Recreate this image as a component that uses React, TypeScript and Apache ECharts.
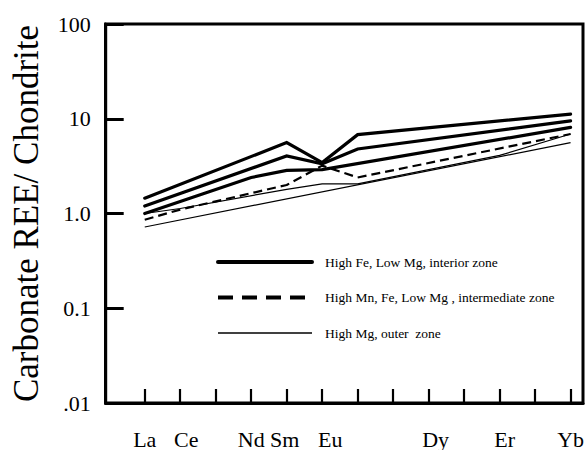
import React, { useEffect, useRef } from "react";
import * as echarts from "echarts";

// REE sequence (x axis positions) and which ones are labelled
const elements = ["La", "Ce", "Pr", "Nd", "Sm", "Eu", "Gd", "Tb", "Dy", "Ho", "Er", "Tm", "Yb"];
const labeledElements = ["La", "Ce", "Nd", "Sm", "Eu", "Dy", "Er", "Yb"];

// y ticks and their labels
const yTickValues = [0.01, 0.1, 1, 10, 100];
const yTickLabels = [".01", "0.1", "1.0", "10", "100"];

const legendNames = [
  "High Fe, Low Mg, interior zone",
  "High Mn, Fe, Low Mg , intermediate zone",
  "High Mg, outer  zone",
];

// interior zone (three thick profiles)
const interior1Elements = ["La", "Sm", "Eu", "Gd", "Yb"];
const interior1Values = [1.45, 5.6, 3.45, 6.8, 11.2];
const interior2Elements = ["La", "Sm", "Eu", "Gd", "Yb"];
const interior2Values = [1.2, 4.05, 3.35, 4.8, 9.5];
const interior3Elements = ["La", "Nd", "Sm", "Eu", "Yb"];
const interior3Values = [1.0, 2.4, 2.85, 2.9, 8.1];

// intermediate zone (dashed)
const intermediateElements = ["La", "Ce", "Sm", "Eu", "Gd", "Yb"];
const intermediateValues = [0.86, 1.1, 2.0, 3.2, 2.4, 6.9];

// outer zone (two thin profiles)
const outer1Elements = ["La", "Yb"];
const outer1Values = [0.72, 5.6];
const outer2Elements = ["La", "Ce", "Sm", "Eu", "Gd", "Er", "Yb"];
const outer2Values = [1.0, 1.13, 1.8, 2.05, 2.05, 4.1, 6.9];

const toPairs = (els: string[], vals: number[]) =>
  els.map((e, i) => [elements.indexOf(e), vals[i]]);

const FONT = "Liberation Serif";

// small horizontal nudges of the hand-placed element labels (px)
const labelNudge: Record<string, number> = { Ce: 6, Sm: -2, Eu: 8, Dy: 7, Er: 5 };

export default function App() {
  const ref = useRef<HTMLDivElement>(null);

  useEffect(() => {
    if (!ref.current) return;
    const chart = echarts.init(ref.current, undefined, { renderer: "svg" });

    const rich: Record<string, any> = {};
    elements.forEach((e) => {
      const n = labelNudge[e] || 0;
      rich[e] = {
        fontFamily: FONT,
        fontSize: 22,
        color: "#000",
        padding: n >= 0 ? [0, 0, 0, 2 * n] : [0, 2 * -n, 0, 0],
      };
    });

    const thick = { color: "#000", width: 3.2, type: "solid", cap: "round", join: "miter" };
    const mk = (name: string, data: number[][], lineStyle: any, z: number) => ({
      type: "line",
      name,
      data,
      symbol: "none",
      showSymbol: false,
      lineStyle,
      itemStyle: { color: "#000" },
      z,
      silent: true,
    });

    chart.setOption({
      animation: false,
      backgroundColor: "#fff",
      textStyle: { fontFamily: FONT, color: "#000" },
      grid: {
        left: 105.7,
        right: 5,
        top: 24,
        bottom: 46.5,
        show: true,
        borderColor: "#000",
        borderWidth: 3,
        backgroundColor: "transparent",
      },
      legend: {
        orient: "vertical",
        left: 216,
        top: 255,
        padding: 0,
        itemWidth: 94,
        itemHeight: 14,
        itemGap: 21.5,
        selectedMode: false,
        itemStyle: { opacity: 0 },
        textStyle: { fontFamily: FONT, fontSize: 13.5, color: "#000", padding: [0, 0, 0, 8] },
        data: [
          { name: legendNames[0], lineStyle: { width: 4, type: "solid", color: "#000" } },
          { name: legendNames[1], lineStyle: { width: 4, type: [15, 9], color: "#000" } },
          { name: legendNames[2], lineStyle: { width: 1.3, type: "solid", color: "#000" } },
        ],
      },
      xAxis: {
        type: "value",
        min: -1.1,
        max: 12.35,
        splitLine: { show: false },
        axisLine: { show: true, onZero: false, lineStyle: { color: "#000", width: 3 } },
        axisTick: {
          show: true,
          inside: true,
          length: 14,
          customValues: elements.map((_, i) => i),
          lineStyle: { color: "#000", width: 2.2 },
        },
        axisLabel: {
          show: true,
          customValues: labeledElements.map((e) => elements.indexOf(e)),
          margin: 25,
          fontFamily: FONT,
          fontSize: 22,
          color: "#000",
          formatter: (v: number) => {
            const e = elements[Math.round(v)];
            return `{${e}|${e}}`;
          },
          rich,
        },
      },
      yAxis: {
        type: "log",
        logBase: 10,
        min: 0.01,
        max: 100,
        name: "Carbonate REE/ Chondrite",
        nameLocation: "middle",
        nameGap: 61.5,
        nameTextStyle: { fontFamily: FONT, fontSize: 35, color: "#000" },
        splitLine: { show: false },
        minorTick: { show: false },
        axisLine: { show: true, onZero: false, lineStyle: { color: "#000", width: 3 } },
        axisTick: {
          show: true,
          inside: true,
          length: 18,
          customValues: yTickValues,
          lineStyle: { color: "#000", width: 3 },
        },
        axisLabel: {
          margin: 15,
          customValues: yTickValues,
          fontFamily: FONT,
          fontSize: 22,
          color: "#000",
          formatter: (v: number) => {
            const i = yTickValues.findIndex((t) => Math.abs(Math.log10(t) - Math.log10(v)) < 1e-6);
            return i >= 0 ? yTickLabels[i] : "";
          },
        },
      },
      series: [
        mk(legendNames[0], toPairs(interior1Elements, interior1Values), thick, 5),
        mk(legendNames[0], toPairs(interior2Elements, interior2Values), thick, 5),
        mk(legendNames[0], toPairs(interior3Elements, interior3Values), thick, 5),
        mk(legendNames[1], toPairs(intermediateElements, intermediateValues), { color: "#000", width: 2.2, type: [9, 5] }, 4),
        mk(legendNames[2], toPairs(outer1Elements, outer1Values), { color: "#000", width: 1.2, type: "solid" }, 3),
        mk(legendNames[2], toPairs(outer2Elements, outer2Values), { color: "#000", width: 1.2, type: "solid" }, 3),
      ],
    });

    return () => chart.dispose();
  }, []);

  return (
    <div
      ref={ref}
      style={{ position: "fixed", left: 0, top: 0, width: 588, height: 450, background: "#fff" }}
    />
  );
}
